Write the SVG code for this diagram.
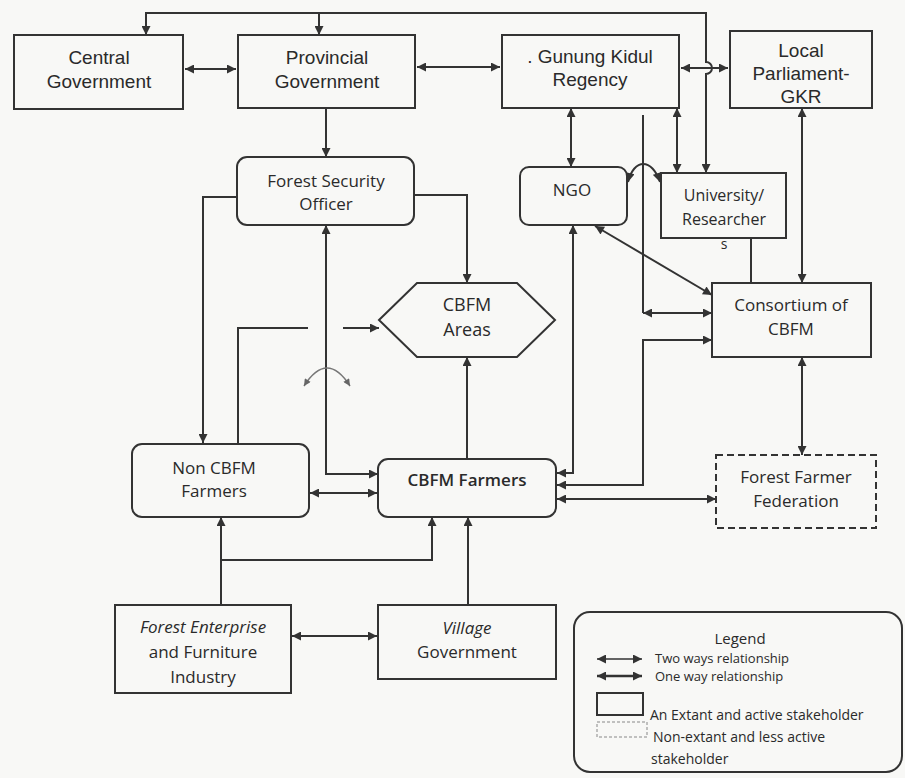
<svg xmlns="http://www.w3.org/2000/svg" width="905" height="778" viewBox="0 0 905 778">
<defs>
<marker id="a" viewBox="0 0 10 10" refX="10" refY="5" markerWidth="11" markerHeight="9" markerUnits="userSpaceOnUse" orient="auto-start-reverse"><path d="M0,0 L10,5 L0,10 z" fill="#333"/></marker>
<marker id="g" viewBox="0 0 10 10" refX="10" refY="5" markerWidth="8" markerHeight="7" markerUnits="userSpaceOnUse" orient="auto-start-reverse"><path d="M0,0 L10,5 L0,10 z" fill="#666"/></marker>
<style>
.box{fill:none;stroke:#333;stroke-width:2}
.dash{fill:none;stroke:#333;stroke-width:2;stroke-dasharray:7 4}
.ta{font-family:"Liberation Sans",Arial,sans-serif;font-size:19px;fill:#2a2a2a;text-anchor:middle}
.tb{font-family:"Open Sans","DejaVu Sans",sans-serif;font-size:17px;fill:#2a2a2a;text-anchor:middle}
.tl{font-family:"Open Sans","DejaVu Sans",sans-serif;font-size:14px;fill:#2a2a2a}
.c{fill:none;stroke:#333;stroke-width:2}
.b{marker-start:url(#a);marker-end:url(#a)}
.e{marker-end:url(#a)}
</style>
</defs>
<rect width="905" height="778" fill="#f8f8f6"/>

<g id="connectors">
<path class="c" d="M146,35 V13 H706 V62 a6,6 0 0 1 0,12 V173" style="marker-start:url(#a);marker-end:url(#a)"/>
<path class="c e" d="M319,13 V35"/>
<path class="c b" d="M185,69 H236"/>
<path class="c b" d="M417,67 H500"/>
<path class="c b" d="M681,68 H728"/>
<path class="c e" d="M326,108 V157"/>
<path class="c e" d="M237,197 H203 V443"/>
<path class="c e" d="M414,195 H467 V283"/>
<path class="c b" d="M326,225 V474 H378"/>
<path class="c" d="M238,444 V328 H308"/>
<path class="c e" d="M343,328 H379"/>
<path d="M304,386 Q327,350 350,386" fill="none" stroke="#777" stroke-width="1.5" style="marker-start:url(#g);marker-end:url(#g)"/>
<path class="c b" d="M310,493 H377"/>
<path class="c e" d="M467,459 V357"/>
<path class="c e" d="M221,605 V517"/>
<path class="c e" d="M221,560 H432 V517"/>
<path class="c e" d="M468,605 V517"/>
<path class="c b" d="M292,636 H377"/>
<path class="c b" d="M571,108 V167"/>
<path class="c b" d="M677,108 V173"/>
<path class="c" d="M643,115 V313"/>
<path class="c b" d="M643,313 H712"/>
<path class="c b" d="M628,182 C634,158 652,158 660,182"/>
<path class="c b" d="M595,226 L712,295"/>
<path class="c" d="M751,238 V283"/>
<path class="c b" d="M802,108 V283"/>
<path class="c b" d="M802,357 V455"/>
<path class="c b" d="M573,225 V473 H557"/>
<path class="c b" d="M712,340 H643 V485 H557"/>
<path class="c b" d="M557,499 H716"/>
</g>

<g id="central-government">
<rect class="box" x="14" y="35" width="169" height="74"/>
<text class="ta" x="99" y="64">Central</text>
<text class="ta" x="99" y="88">Government</text>
</g>
<g id="provincial-government">
<rect class="box" x="238" y="35" width="177" height="73"/>
<text class="ta" x="327" y="64">Provincial</text>
<text class="ta" x="327" y="88">Government</text>
</g>
<g id="gunung-kidul-regency">
<rect class="box" x="502" y="35" width="177" height="73"/>
<text class="ta" x="590" y="63">. Gunung Kidul</text>
<text class="ta" x="590" y="86">Regency</text>
</g>
<g id="local-parliament">
<rect class="box" x="730" y="31" width="142" height="77"/>
<text class="ta" x="801" y="57">Local</text>
<text class="ta" x="801" y="80">Parliament-</text>
<text class="ta" x="801" y="103">GKR</text>
</g>
<g id="forest-security-officer">
<rect class="box" x="237" y="157" width="177" height="68" rx="10"/>
<text class="tb" x="326" y="187">Forest Security</text>
<text class="tb" x="326" y="210">Officer</text>
</g>
<g id="ngo">
<rect class="box" x="520" y="167" width="107" height="58" rx="9"/>
<text class="tb" x="572" y="196">NGO</text>
</g>
<g id="university-researchers">
<rect class="box" x="661" y="173" width="125" height="65"/>
<text class="tb" x="724" y="201" style="font-size:16px">University/</text>
<text class="tb" x="724" y="225" style="font-size:16px">Researcher</text>
<text class="tb" x="724" y="249" style="font-size:14px">s</text>
</g>
<g id="cbfm-areas">
<polygon class="box" points="379,320 417,283 517,283 555,320 517,357 417,357"/>
<text class="tb" x="467" y="311" style="font-size:18px">CBFM</text>
<text class="tb" x="467" y="336" style="font-size:18px">Areas</text>
</g>
<g id="consortium-of-cbfm">
<rect class="box" x="712" y="283" width="159" height="74"/>
<text class="tb" x="791" y="311">Consortium of</text>
<text class="tb" x="791" y="335">CBFM</text>
</g>
<g id="non-cbfm-farmers">
<rect class="box" x="132" y="444" width="177" height="73" rx="10"/>
<text class="tb" x="214" y="474">Non CBFM</text>
<text class="tb" x="214" y="497">Farmers</text>
</g>
<g id="cbfm-farmers">
<rect class="box" x="378" y="459" width="178" height="58" rx="10"/>
<text class="tb" x="467" y="486" style="font-weight:600">CBFM Farmers</text>
</g>
<g id="forest-farmer-federation">
<rect class="dash" x="716" y="455" width="160" height="73"/>
<text class="tb" x="796" y="483">Forest Farmer</text>
<text class="tb" x="796" y="507">Federation</text>
</g>
<g id="forest-enterprise">
<rect class="box" x="115" y="605" width="176" height="88"/>
<text class="tb" x="203" y="633" style="font-style:italic">Forest Enterprise</text>
<text class="tb" x="203" y="658">and Furniture</text>
<text class="tb" x="203" y="683">Industry</text>
</g>
<g id="village-government">
<rect class="box" x="378" y="605" width="178" height="74"/>
<text class="tb" x="467" y="634" style="font-style:italic">Village</text>
<text class="tb" x="467" y="658">Government</text>
</g>

<g id="legend">
<rect x="574" y="612" width="328" height="160" rx="16" fill="none" stroke="#333" stroke-width="2"/>
<text class="tl" x="740" y="644" text-anchor="middle" style="font-size:15px">Legend</text>
<path class="c b" d="M597,659 H642" style="stroke-width:1.5"/>
<text class="tl" x="655" y="663" style="font-size:13px">Two ways relationship</text>
<path class="c b" d="M597,676 H642" style="stroke-width:2.5"/>
<text class="tl" x="655" y="681" style="font-size:13px">One way relationship</text>
<rect x="597" y="693" width="46" height="22" fill="none" stroke="#333" stroke-width="2"/>
<text class="tl" x="650" y="720">An Extant and active stakeholder</text>
<rect x="597" y="722" width="50" height="15" fill="none" stroke="#888" stroke-width="1" stroke-dasharray="3 2"/>
<text class="tl" x="653" y="742">Non-extant and less active</text>
<text class="tl" x="651" y="764">stakeholder</text>
</g>
</svg>
